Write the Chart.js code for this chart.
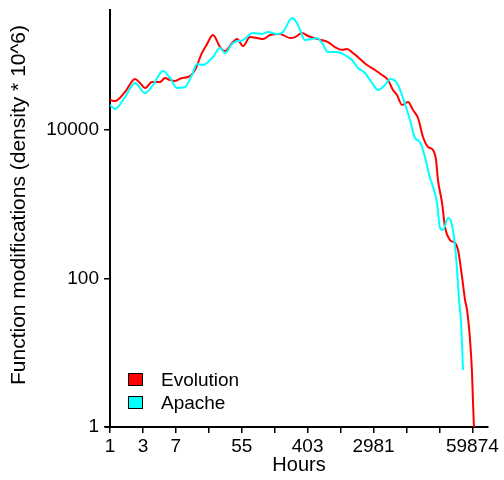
<!DOCTYPE html>
<html>
<head>
<meta charset="utf-8">
<script src="https://cdn.jsdelivr.net/npm/chart.js@4.4.0/dist/chart.umd.min.js"></script>
<style>
html, body { margin: 0; padding: 0; background: #fff; }
#wrap { width: 504px; height: 480px; }
</style>
</head>
<body>
<div id="wrap"><canvas id="chart" width="504" height="480"></canvas></div>
<script>
// densité des modifications de fonctions, axe x en heures (log)

var seriesNames = ['Evolution', 'Apache'];
var seriesColors = ['#FF0000', '#00FFFF'];

var evoHours = [1, 1.164, 1.577, 2.136, 2.487, 2.894, 3.579, 4.563, 5.31, 6.18, 7.19, 8.90, 10.68, 13.2, 16.3, 18.4,
  22.8, 28.2, 32.8, 41.8, 47.3, 56.7, 70.1, 86.7, 104, 129, 174, 236, 275, 340, 408, 553, 749, 926, 1145, 1332,
  1599, 1978, 2446, 3118, 3855, 4628, 5383, 6078, 7078, 8495, 9888, 11500, 13390, 15600, 18150, 19870, 21100,
  23870, 26140, 30430, 35430, 38820, 43820, 47990, 51000, 55840, 59300, 61130, 63000];
var evoDensity = [25500, 24760, 32700, 49000, 43300, 37000, 44600, 44600, 50600, 47500, 46000, 50600, 52100, 64800,
  110000, 136000, 192000, 132000, 117000, 154000, 169000, 136000, 180000, 175000, 169000, 192000, 198000, 175000,
  180000, 204000, 186000, 169000, 154000, 132000, 121000, 124000, 110000, 91100, 75700, 64800, 55500, 47500, 34800,
  29800, 21900, 24000, 18700, 14600, 8090, 5940, 5410, 3970, 2130, 1045, 496, 331, 302, 243, 105, 51.5, 37.7, 14.9,
  5.35, 2.11, 0.95];

var apaHours = [1, 1.164, 1.577, 2.136, 2.894, 3.688, 5.00, 6.18, 7.64, 9.75, 12.05, 14.0, 16.8, 22.8, 28.2, 32.8,
  41.8, 56.7, 76.8, 100.9, 121, 159, 191, 251, 292, 320, 372, 460, 536, 624, 749, 984, 1254, 1550, 1862, 2302, 2849,
  3415, 4224, 4915, 6078, 7294, 9020, 10500, 12200, 14200, 16560, 18150, 20500, 22400, 24600, 28600, 32300, 35430,
  37630, 39990, 42500, 45100];
var apaDensity = [21900, 19300, 28000, 43300, 31700, 40600, 62800, 50600, 37000, 38200, 55500, 78000, 75700, 97000,
  128000, 110000, 150000, 164000, 204000, 198000, 211000, 198000, 211000, 325000, 279000, 224000, 164000, 169000,
  175000, 150000, 113000, 113000, 103000, 88300, 68900, 59000, 43300, 34800, 40600, 49000, 43300, 27200, 13700, 7850,
  6930, 4350, 2270, 1717, 1045, 481, 452, 656, 528, 267, 131, 51.5, 25.2, 5.86];

var xTickValues = [1, 2.718, 7.389, 20.09, 54.6, 148.4, 403.4, 1096.6, 2981, 8103, 22026, 59874];
var xTickLabels = ['1', '3', '7', '', '55', '', '403', '', '2981', '', '', '59874'];
var yTickValues = [1, 100, 10000];
var yTickLabels = ['1', '100', '10000'];

var FONT = "'Liberation Sans', Arial, sans-serif";

function toPoints(xs, ys) {
  return xs.map(function(x, i) { return { x: x, y: ys[i] }; });
}

// légende + titre y dessinés à la main
var overlay = {
  id: 'overlay',
  afterDraw: function(chart) {
    var ctx = chart.ctx;
    var area = chart.chartArea;
    ctx.save();
    // petit bout de l'axe x à gauche de l'axe y
    ctx.strokeStyle = '#000';
    ctx.lineWidth = 2;
    ctx.beginPath();
    ctx.moveTo(area.left - 5, area.bottom);
    ctx.lineTo(area.left, area.bottom);
    ctx.stroke();

    ctx.font = '19px ' + FONT;
    ctx.textBaseline = 'middle';
    ctx.textAlign = 'left';
    var rows = [380, 403];
    chart.data.datasets.forEach(function(ds, i) {
      var cy = rows[i];
      ctx.fillStyle = ds.borderColor;
      ctx.fillRect(128.5, cy - 6.5, 14, 12);
      ctx.strokeStyle = '#000';
      ctx.lineWidth = 1;
      ctx.strokeRect(128.5, cy - 6.5, 14, 12);
      ctx.fillStyle = '#000';
      ctx.fillText(ds.label, 161, cy + 1);
    });
    ctx.translate(19, 205);
    ctx.rotate(-Math.PI / 2);
    ctx.textAlign = 'center';
    ctx.font = '21px ' + FONT;
    ctx.fillText('Function modifications (density * 10^6)', 0, 0);
    ctx.restore();
  }
};

var ctx = document.getElementById('chart');
new Chart(ctx, {
  type: 'line',
  data: {
    datasets: [
      { label: seriesNames[0], data: toPoints(evoHours, evoDensity), borderColor: seriesColors[0], order: 1 },
      { label: seriesNames[1], data: toPoints(apaHours, apaDensity), borderColor: seriesColors[1], order: 0 }
    ]
  },
  options: {
    responsive: false, animation: false,
    layout: { padding: { top: 10, right: 16, left: 0, bottom: 0 } },
    plugins: { legend: { display: false }, tooltip: { enabled: false } },
    elements: {
      point: { radius: 0 },
      line: { borderWidth: 2, cubicInterpolationMode: 'monotone', fill: false }
    },
    scales: {
      x: {
        type: 'logarithmic', min: 1, max: 96300,
        afterBuildTicks: function(s) { s.ticks = xTickValues.map(function(v) { return { value: v }; }); },
        afterFit: function(s) { s.height = 53; s.paddingLeft = 0; s.paddingRight = 0; },
        grid: { drawOnChartArea: false, drawTicks: true, tickLength: 6, color: '#000', lineWidth: 1.5 },
        border: { display: true, color: '#000', width: 2 },
        ticks: {
          autoSkip: false, maxRotation: 0, minRotation: 0, color: '#000', padding: 2,
          font: { family: FONT, size: 19 },
          callback: function(v, i) { return xTickLabels[i]; }
        },
        title: { display: true, text: 'Hours', color: '#000', font: { family: FONT, size: 20 }, padding: { top: 0, bottom: 3 } }
      },
      y: {
        type: 'logarithmic', min: 1, max: 417000,
        afterBuildTicks: function(s) { s.ticks = yTickValues.map(function(v) { return { value: v }; }); },
        afterFit: function(s) { s.width = 110; s.paddingTop = 0; s.paddingBottom = 0; },
        grid: { drawOnChartArea: false, drawTicks: true, tickLength: 6, color: '#000', lineWidth: 1.5 },
        border: { display: true, color: '#000', width: 2 },
        ticks: {
          color: '#000', padding: 5,
          font: { family: FONT, size: 19 },
          callback: function(v, i) { return yTickLabels[i]; }
        }
      }
    }
  },
  plugins: [overlay]
});
</script>
</body>
</html>
